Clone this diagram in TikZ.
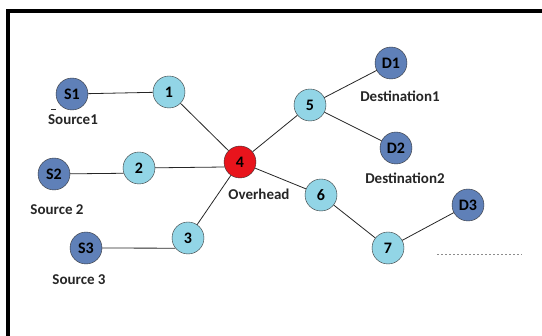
\documentclass[tikz,border=0pt]{standalone}
\usepackage{fontspec}
\setmainfont{Carlito}
\definecolor{hopblue}{HTML}{92D5E6}
\definecolor{endblue}{HTML}{5F80B8}
\definecolor{hubred}{HTML}{E8141C}
\tikzset{
	hop/.style={circle, draw=black!80, fill=hopblue, minimum size=32pt, inner sep=0pt, font=\bfseries\fontsize{16}{16}\selectfont},
	endpt/.style={hop, fill=endblue},
	hub/.style={hop, fill=hubred},
	tag/.style={font=\bfseries\fontsize{15}{15}\selectfont, text=black!85},
	link/.style={draw=black!85, line width=0.8pt}
}
\begin{document}
\begin{tikzpicture}[x=1pt, y=-1pt]
		\useasboundingbox (0,0) rectangle (542,336);
		\draw[line width=4pt] (7.5,336) -- (7.5,11.5) -- (542,11.5);
		% sources
		\node[endpt] (s1) at (72,94) {S1};
		\node[endpt] (s2) at (54,174) {S2};
		\node[endpt] (s3) at (86,248) {S3};
		% relays
		\node[hop] (n1) at (169,92) {1};
		\node[hop] (n2) at (139,168) {2};
		\node[hop] (n3) at (188,238) {3};
		\node[hub] (n4) at (240,162) {4};
		\node[hop] (n5) at (310,105) {5};
		\node[hop] (n6) at (321,195) {6};
		\node[hop] (n7) at (388,248) {7};
		% destinations
		\node[endpt] (d1) at (391,63) {D1};
		\node[endpt] (d2) at (396,148) {D2};
		\node[endpt] (d3) at (468,205) {D3};
		% labels
		\node[tag] (ls1) at (73,120) {Source1};
		\node[tag] (ls2) at (57,210) {Source 2};
		\node[tag] (ls3) at (79,280) {Source 3};
		\node[tag] (l4) at (259,194) {Overhead};
		\node[tag] (ld1) at (400,96) {Destination1};
		\node[tag] (ld2) at (405,178) {Destination2};
		\draw[black!80, line width=0.5pt] (51,109) -- (56,109);
		% links
		\draw[link] (s1) -- (n1);
		\draw[link] (s2) -- (n2.199);
		\draw[link] (s3) -- (n3.219);
		\draw[link] (n1) -- (n4);
		\draw[link] (n2) -- (n4.198);
		\draw[link] (n3) -- (n4);
		\draw[link] (n4) -- (n5);
		\draw[link] (n4) -- (n6);
		\draw[link] (n5) -- (d1);
		\draw[link] (n5) -- (d2);
		\draw[link] (n6) -- (n7);
		\draw[link] (n7) -- (d3);
		\coordinate (t1) at (437,254);
		\coordinate (t2) at (522,254);
		\draw[black!45, line width=0.8pt, dash pattern=on 2pt off 2pt] (t1) -- (t2);
	\end{tikzpicture}
\end{document}
